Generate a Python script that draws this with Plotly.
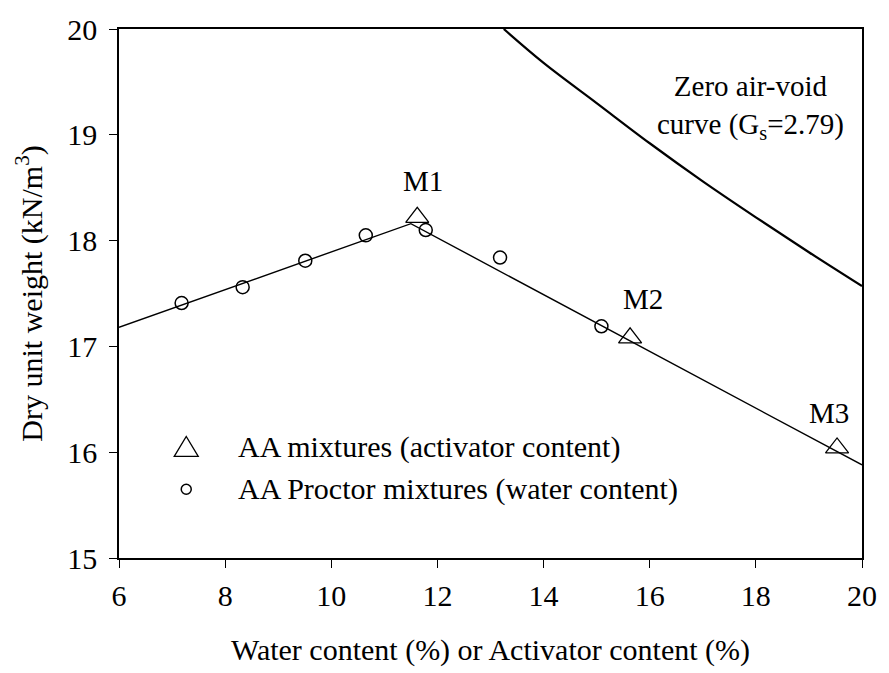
import plotly.graph_objects as go

# Data
proctor_w = [7.18, 8.33, 9.51, 10.65, 11.78, 13.18, 15.09]
proctor_gd = [17.41, 17.56, 17.81, 18.05, 18.10, 17.84, 17.19]

aa_w = [11.62, 15.63, 19.53]
aa_gd = [18.22, 17.08, 16.04]
aa_labels = ["M1", "M2", "M3"]
aa_label_x = [11.72, 15.87, 19.38]
aa_label_y = [18.56, 17.45, 16.37]

fit_w = [6.0, 11.5, 20.0]
fit_gd = [17.18, 18.16, 15.88]

zav_w = [13.25, 14.0, 15.0, 16.0, 17.0, 18.0, 19.0, 20.0]
zav_gd = [20.0, 19.68, 19.30, 18.92, 18.56, 18.22, 17.89, 17.57]

x_ticks = [6, 8, 10, 12, 14, 16, 18, 20]
y_ticks = [15, 16, 17, 18, 19, 20]

legend_names = ["AA mixtures (activator content)", "AA Proctor mixtures (water content)"]

FONT = "Liberation Serif, Times New Roman, serif"
FS = 30

fig = go.Figure()

fig.add_trace(go.Scatter(x=zav_w, y=zav_gd, mode="lines",
                         line=dict(color="black", width=2.2, shape="spline"),
                         showlegend=False, hoverinfo="skip"))
fig.add_trace(go.Scatter(x=fit_w, y=fit_gd, mode="lines",
                         line=dict(color="black", width=1.4),
                         showlegend=False, hoverinfo="skip"))
fig.add_trace(go.Scatter(x=proctor_w, y=proctor_gd, mode="markers",
                         marker=dict(symbol="circle-open", size=13, color="black",
                                     line=dict(width=1.5, color="black")),
                         showlegend=False, name=legend_names[1]))
fig.add_trace(go.Scatter(x=aa_w, y=aa_gd, mode="markers",
                         marker=dict(symbol="triangle-up-open", size=20, color="black",
                                     line=dict(width=1.3, color="black")),
                         showlegend=False, name=legend_names[0]))

annotations = []
for lx, ly, t in zip(aa_label_x, aa_label_y, aa_labels):
    annotations.append(dict(x=lx, y=ly, text=t, showarrow=False, xref="x", yref="y",
                            font=dict(family=FONT, size=FS - 1, color="black")))
annotations.append(dict(x=17.9, y=19.26, xref="x", yref="y", showarrow=False,
                        text="Zero air-void<br>curve (G<sub>s</sub>=2.79)", align="center",
                        font=dict(family=FONT, size=FS - 1, color="black")))

# Custom legend (glyphs as shapes, labels as annotations)
leg_x = 0.0905
leg_y = [0.209, 0.130]
text_x = 0.158
for ly, name in zip(leg_y, legend_names):
    annotations.append(dict(x=text_x, y=ly, xref="paper", yref="paper", text=name,
                            showarrow=False, xanchor="left", yanchor="middle",
                            font=dict(family=FONT, size=FS, color="black")))

shapes = [
    dict(type="path", xref="paper", yref="paper", xsizemode="pixel", ysizemode="pixel",
         xanchor=leg_x, yanchor=leg_y[0], path="M -12,-9 L 12,-9 L 0,11 Z",
         line=dict(color="black", width=1.3)),
    dict(type="circle", xref="paper", yref="paper", xsizemode="pixel", ysizemode="pixel",
         xanchor=leg_x, yanchor=leg_y[1], x0=-5, x1=5, y0=-5, y1=5,
         line=dict(color="black", width=1.5)),
]

axis_common = dict(showgrid=False, zeroline=False, showline=True, linecolor="black",
                   linewidth=1.5, mirror=True, ticks="outside", ticklen=8,
                   tickwidth=1.3, tickcolor="black",
                   tickfont=dict(family=FONT, size=FS, color="black"))

fig.update_layout(
    width=889, height=673,
    margin=dict(l=119, r=19, t=20, b=113),
    plot_bgcolor="white", paper_bgcolor="white",
    xaxis=dict(range=[6, 20], tickvals=x_ticks, ticklabelstandoff=2,
               title=dict(text="Water content (%) or Activator content (%)",
                          font=dict(family=FONT, size=FS, color="black"), standoff=28),
               **axis_common),
    yaxis=dict(range=[15, 20], tickvals=y_ticks, ticklabelstandoff=6,
               title=dict(text="Dry unit weight (kN/m<sup>3</sup>)",
                          font=dict(family=FONT, size=FS, color="black"), standoff=16),
               **axis_common),
    annotations=annotations,
    shapes=shapes,
    showlegend=False,
)

fig.write_html("out.html")
